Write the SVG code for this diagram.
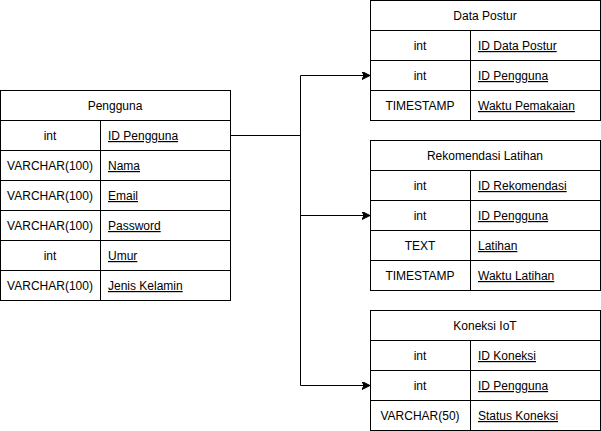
<svg xmlns="http://www.w3.org/2000/svg" width="601" height="431" viewBox="0 0 601 431">
<style>
rect{fill:#fff;stroke:#000;stroke-width:1}
line.d{stroke:#000;stroke-width:1}
text{font-family:"Liberation Sans",Arial,Helvetica,sans-serif;font-size:12px;fill:#000}
.c{text-anchor:middle}
.u{text-decoration:underline}
.conn path{fill:none;stroke:#000;stroke-width:1}
</style>
<defs>
<marker id="arr" markerWidth="10" markerHeight="10" refX="8" refY="4" orient="auto" markerUnits="userSpaceOnUse">
<path d="M0,0 L8,4 L0,8 L2,4 Z" fill="#000" stroke="#000" stroke-width="1"/>
</marker>
</defs>
<rect x="0" y="0" width="601" height="431" style="stroke:none"/>

<g id="pengguna">
<rect x="0.5" y="90.5" width="230" height="210"/>
<line class="d" x1="0.5" y1="120.5" x2="230.5" y2="120.5"/>
<line class="d" x1="0.5" y1="150.5" x2="230.5" y2="150.5"/>
<line class="d" x1="0.5" y1="180.5" x2="230.5" y2="180.5"/>
<line class="d" x1="0.5" y1="210.5" x2="230.5" y2="210.5"/>
<line class="d" x1="0.5" y1="240.5" x2="230.5" y2="240.5"/>
<line class="d" x1="0.5" y1="270.5" x2="230.5" y2="270.5"/>
<line class="d" x1="100.5" y1="120.5" x2="100.5" y2="300.5"/>
<text class="c" x="115" y="110">Pengguna</text>
<text class="c" x="50" y="140">int</text><text class="u" x="108" y="140">ID Pengguna</text>
<text class="c" x="50" y="170">VARCHAR(100)</text><text class="u" x="108" y="170">Nama</text>
<text class="c" x="50" y="200">VARCHAR(100)</text><text class="u" x="108" y="200">Email</text>
<text class="c" x="50" y="230">VARCHAR(100)</text><text class="u" x="108" y="230">Password</text>
<text class="c" x="50" y="260">int</text><text class="u" x="108" y="260">Umur</text>
<text class="c" x="50" y="290">VARCHAR(100)</text><text class="u" x="108" y="290">Jenis Kelamin</text>
</g>

<g id="data-postur">
<rect x="370.5" y="0.5" width="230" height="120"/>
<line class="d" x1="370.5" y1="30.5" x2="600.5" y2="30.5"/>
<line class="d" x1="370.5" y1="60.5" x2="600.5" y2="60.5"/>
<line class="d" x1="370.5" y1="90.5" x2="600.5" y2="90.5"/>
<line class="d" x1="470.5" y1="30.5" x2="470.5" y2="120.5"/>
<text class="c" x="485" y="20">Data Postur</text>
<text class="c" x="420" y="50">int</text><text class="u" x="478" y="50">ID Data Postur</text>
<text class="c" x="420" y="80">int</text><text class="u" x="478" y="80">ID Pengguna</text>
<text class="c" x="420" y="110">TIMESTAMP</text><text class="u" x="478" y="110">Waktu Pemakaian</text>
</g>

<g id="rekomendasi-latihan">
<rect x="370.5" y="140.5" width="230" height="150"/>
<line class="d" x1="370.5" y1="170.5" x2="600.5" y2="170.5"/>
<line class="d" x1="370.5" y1="200.5" x2="600.5" y2="200.5"/>
<line class="d" x1="370.5" y1="230.5" x2="600.5" y2="230.5"/>
<line class="d" x1="370.5" y1="260.5" x2="600.5" y2="260.5"/>
<line class="d" x1="470.5" y1="170.5" x2="470.5" y2="290.5"/>
<text class="c" x="485" y="160">Rekomendasi Latihan</text>
<text class="c" x="420" y="190">int</text><text class="u" x="478" y="190">ID Rekomendasi</text>
<text class="c" x="420" y="220">int</text><text class="u" x="478" y="220">ID Pengguna</text>
<text class="c" x="420" y="250">TEXT</text><text class="u" x="478" y="250">Latihan</text>
<text class="c" x="420" y="280">TIMESTAMP</text><text class="u" x="478" y="280">Waktu Latihan</text>
</g>

<g id="koneksi-iot">
<rect x="370.5" y="310.5" width="230" height="120"/>
<line class="d" x1="370.5" y1="340.5" x2="600.5" y2="340.5"/>
<line class="d" x1="370.5" y1="370.5" x2="600.5" y2="370.5"/>
<line class="d" x1="370.5" y1="400.5" x2="600.5" y2="400.5"/>
<line class="d" x1="470.5" y1="340.5" x2="470.5" y2="430.5"/>
<text class="c" x="485" y="330">Koneksi IoT</text>
<text class="c" x="420" y="360">int</text><text class="u" x="478" y="360">ID Koneksi</text>
<text class="c" x="420" y="390">int</text><text class="u" x="478" y="390">ID Pengguna</text>
<text class="c" x="420" y="420">VARCHAR(50)</text><text class="u" x="478" y="420">Status Koneksi</text>
</g>

<g id="connectors" class="conn">
<path d="M230.5,135.5 H300.5 V75.5 H370" marker-end="url(#arr)"/>
<path d="M230.5,135.5 H300.5 V215.5 H370" marker-end="url(#arr)"/>
<path d="M230.5,135.5 H300.5 V385.5 H370" marker-end="url(#arr)"/>
</g>
</svg>
